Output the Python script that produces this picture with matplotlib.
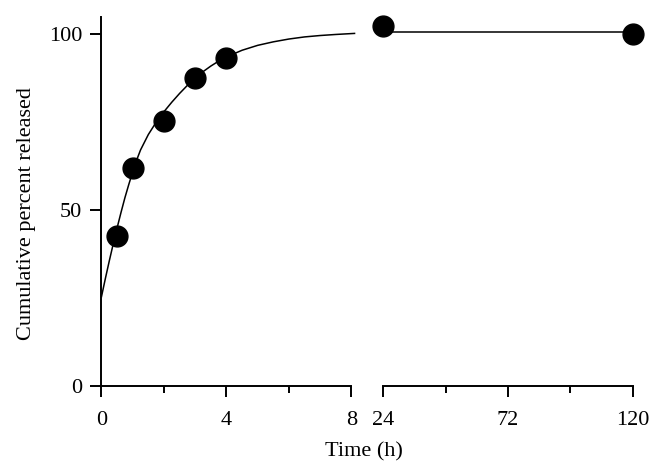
import matplotlib
matplotlib.use("Agg")
import matplotlib.pyplot as plt

plt.rcParams['font.family'] = ['Liberation Serif', 'DejaVu Serif']

# measured release (h, %)
time_early = [0.5, 1, 2, 3, 4]
release_early = [42.5, 62.0, 75.4, 87.7, 93.4]
time_late = [24, 120]
release_late = [102.5, 100.0]

# fitted curve
curve_t = [0, 0.125, 0.25, 0.375, 0.5, 0.625, 0.75, 0.875, 1, 1.125, 1.25,
           1.5, 1.75, 2, 2.25, 2.5, 2.75, 3, 3.25, 3.5, 3.75, 4, 4.5, 5,
           5.5, 6, 6.5, 7, 7.5, 8.1]
curve_y = [25.3, 30.5, 35.5, 40.3, 44.9, 49.3, 53.5, 57.3, 60.9, 64.2, 67.1,
           71.5, 75.0, 78.0, 80.7, 83.2, 85.5, 87.6, 89.4, 91.0, 92.4, 93.6,
           95.5, 96.9, 97.9, 98.7, 99.3, 99.7, 100.0, 100.3]
plateau_t = [24, 120]
plateau_y = [100.8, 100.8]

left_ticks = [0, 4, 8]
left_minor = [2, 6]
right_ticks = [24, 72, 120]
right_minor = [48, 96]
y_ticks = [0, 50, 100]

fig = plt.figure(figsize=(6.56, 4.75), dpi=100)
ax1 = fig.add_axes([0.1547, 0.1884, 0.381, 0.776])
ax2 = fig.add_axes([0.5843, 0.1884, 0.380, 0.776])

ax1.plot(curve_t, curve_y, color='black', lw=1.1, clip_on=False)
ax1.plot(time_early, release_early, 'o', color='black', ms=15, clip_on=False)
ax2.plot(plateau_t, plateau_y, color='black', lw=1.1, clip_on=False)
ax2.plot(time_late, release_late, 'o', color='black', ms=15, clip_on=False)

ax1.set_xlim(0, 8)
ax2.set_xlim(24, 120)
for ax in (ax1, ax2):
    ax.set_ylim(0, 105)
    ax.spines['top'].set_visible(False)
    ax.spines['right'].set_visible(False)
    for s in ax.spines.values():
        s.set_linewidth(1.4)
    ax.tick_params(which='major', direction='out', length=8, width=1.4,
                   labelsize=16, pad=6)
    ax.tick_params(which='minor', direction='out', length=5, width=1.4)
    ax.tick_params(axis='x', pad=10)

ax1.set_xticks(left_ticks)
ax1.set_xticks(left_minor, minor=True)
ax1.set_yticks(y_ticks)
ax2.set_xticks(right_ticks)
ax2.set_xticks(right_minor, minor=True)
ax2.spines['left'].set_visible(False)
ax2.set_yticks([])

fig.text(0.555, 0.048, 'Time (h)', ha='center', va='center', fontsize=16)
fig.text(0.041, 0.55, 'Cumulative percent released', ha='center',
         va='center', rotation=90, fontsize=16)

fig.savefig('out.png', dpi=100)
